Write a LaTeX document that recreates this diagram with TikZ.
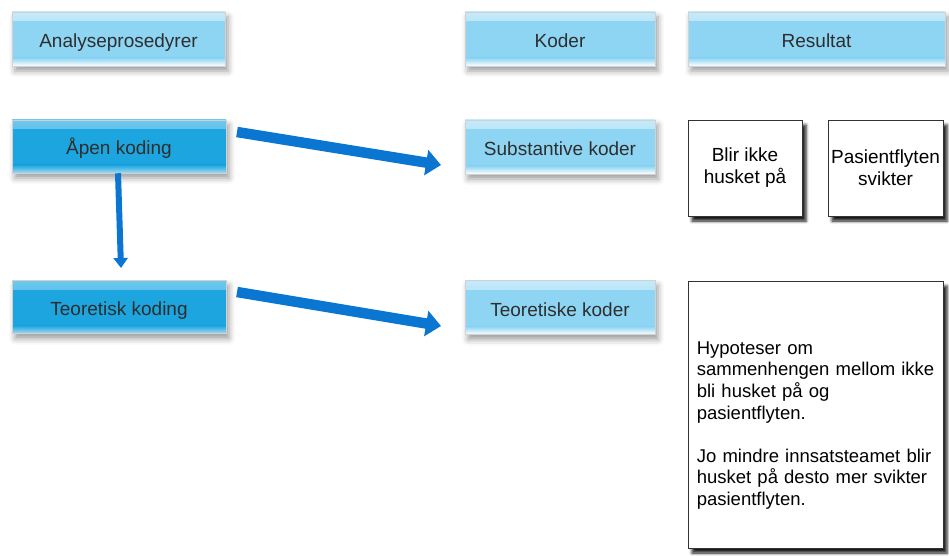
\documentclass[tikz,border=0pt]{standalone}
\usepackage{fontspec}
\setmainfont{Liberation Sans}
\usetikzlibrary{arrows.meta,shadows.blur}
\definecolor{lightblue}{HTML}{8ED5F3}
\definecolor{lightbluetop}{HTML}{C4EAF9}
\definecolor{darkblue}{HTML}{1CA5DF}
\definecolor{darkbluetop}{HTML}{6FC8EE}
\definecolor{arrowblue}{HTML}{0B76D1}
\definecolor{boxtext}{HTML}{2E2E2E}
\tikzset{
  bluebase/.style={minimum width=#1, inner sep=0pt, draw=black!18, line width=0.5pt,
    font=\fontsize{19}{21.5}\selectfont, text=boxtext, text height=17pt, text depth=0pt,
    blur shadow={shadow xshift=3pt, shadow yshift=-5pt, shadow opacity=40, shadow blur radius=6pt}},
  lightbox/.style={bluebase=#1, minimum height=54pt, fill=lightblue,
    path picture={
      \shade[top color=lightbluetop, bottom color=lightblue]
        (path picture bounding box.north west) rectangle ([yshift=-9pt]path picture bounding box.north east);
      \shade[top color=lightblue, bottom color=white]
        ([yshift=8pt]path picture bounding box.south west) rectangle (path picture bounding box.south east);
    }},
  darkbox/.style={bluebase=#1, minimum height=53pt, fill=darkblue,
    path picture={
      \shade[top color=darkbluetop, bottom color=darkblue]
        (path picture bounding box.north west) rectangle ([yshift=-9pt]path picture bounding box.north east);
      \shade[top color=darkblue, bottom color=white!60!darkblue]
        ([yshift=8pt]path picture bounding box.south west) rectangle (path picture bounding box.south east);
    }},
  resbox/.style={draw=black!80, line width=0.8pt, fill=white, inner sep=0pt,
    font=\fontsize{19}{22}\selectfont, text=black,
    blur shadow={shadow xshift=4pt, shadow yshift=-5pt, shadow opacity=90, shadow blur radius=3pt}},
  bigarrow/.style={draw=arrowblue, line width=10.5pt, -{Triangle[length=15pt,width=25pt]}},
  smallarrow/.style={draw=arrowblue, line width=6pt, -{Triangle[length=10pt,width=14pt]}},
}
\begin{document}
\begin{tikzpicture}[x=1pt,y=-1pt]
\useasboundingbox (0,0) rectangle (949,556);
% headers
\node[lightbox=213pt] (hA) at (118.5,39) {Analyseprosedyrer};
\node[lightbox=190pt] (hK) at (560,39) {Koder};
\node[lightbox=257pt] (hR) at (816.5,39) {Resultat};
% process boxes
\node[darkbox=214pt] (open) at (119,146.5) {Åpen koding};
\node[darkbox=214pt] (theo) at (119,307) {Teoretisk koding};
\node[lightbox=190pt] (subst) at (560,147) {Substantive koder};
\node[lightbox=190pt] (theok) at (560,307.5) {Teoretiske koder};
% result boxes
\node[resbox, minimum width=114pt, minimum height=96pt, align=center] (r1) at (745,168) {Blir ikke\\husket på};
\node[resbox, minimum width=115pt, minimum height=96pt, align=center] (r2) at (885.5,168) {Pasientflyten\\svikter};
\node[resbox, minimum width=255pt, minimum height=267pt] (r3) at (815.5,414.5) {};
\node[font=\fontsize{18.5}{21.6}\selectfont, text width=244pt, align=left, anchor=west, inner sep=0pt] (r3t) at ([xshift=9pt,yshift=-11pt]r3.west)
  {Hypoteser om\\sammenhengen mellom ikke\\bli husket på og\\pasientflyten.\\[21.6pt]Jo mindre innsatsteamet blir\\husket på desto mer svikter\\pasientflyten.};
% arrows
\coordinate (a1s) at (237,132);
\coordinate (a1e) at (441,165);
\coordinate (a2s) at (237,292);
\coordinate (a2e) at (441,326);
\coordinate (a3e) at (121,268);
\draw[bigarrow] (a1s) -- (a1e);
\draw[bigarrow] (a2s) -- (a2e);
\draw[smallarrow] (open.south -| 118,0) -- (a3e);
\end{tikzpicture}
\end{document}
